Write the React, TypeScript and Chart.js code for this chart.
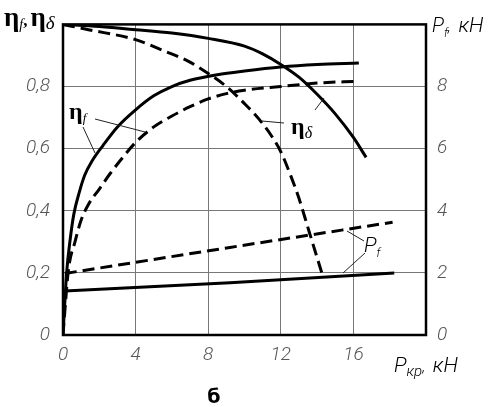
import React, { useEffect, useRef } from 'react';
import { Chart, registerables } from 'chart.js';

Chart.register(...registerables);

// Traction load P_кр, кН (x) vs efficiencies (left axis) and P_f, кН (right axis)
const etaFSolid: [number, number][] = [
  [0, 0], [0.2, 0.2], [0.4, 0.31], [0.6, 0.39], [0.9, 0.46], [1.2, 0.515],
  [1.6, 0.56], [2.2, 0.61], [3.0, 0.67], [4.0, 0.725], [5.0, 0.77], [6.0, 0.8],
  [7.0, 0.82], [8.5, 0.838], [10, 0.85], [12, 0.863], [14, 0.871], [16.3, 0.876],
];
const etaFDashed: [number, number][] = [
  [0, 0], [0.3, 0.21], [0.66, 0.3], [1.0, 0.37], [1.4, 0.42], [2.0, 0.47],
  [2.6, 0.52], [3.2, 0.565], [4.0, 0.62], [5.0, 0.67], [6.0, 0.705], [7.0, 0.735],
  [8.0, 0.76], [9.0, 0.777], [10, 0.788], [12, 0.8], [14, 0.811], [16.2, 0.817],
];
const etaDeltaSolid: [number, number][] = [
  [0, 1.0], [2, 0.993], [4, 0.983], [6, 0.972], [8, 0.955], [10, 0.93], [11, 0.905],
  [12, 0.871], [13, 0.83], [14, 0.775], [15, 0.712], [16, 0.636], [16.7, 0.572],
];
const etaDeltaDashed: [number, number][] = [
  [0, 1.0], [1.4, 0.983], [4, 0.951], [5.64, 0.913], [6.92, 0.881], [8, 0.842],
  [9, 0.8], [10, 0.745], [10.8, 0.695], [11.5, 0.64], [12, 0.59], [12.5, 0.52],
  [13, 0.44], [13.55, 0.335], [14.3, 0.192],
];
const pfSolid: [number, number][] = [[0.1, 1.42], [9.2, 1.68], [18.25, 2.0]];
const pfDashed: [number, number][] = [[0.1, 1.98], [9.2, 2.82], [18.16, 3.63]];

const xTickLabels = ['0', '4', '8', '12', '16', ''];
const leftTickLabels = ['0', '0,2', '0,4', '0,6', '0,8', ''];
const rightTickLabels = ['0', '2', '4', '6', '8', ''];

const NARROW = "Roboto, 'Liberation Sans', sans-serif";
const SERIF = "'Liberation Serif', 'DejaVu Serif', serif";

type Part = { t: string; font: string; dy?: number; gap?: number };

function drawParts(ctx: CanvasRenderingContext2D, x: number, y: number, parts: Part[]) {
  let cx = x;
  for (const p of parts) {
    ctx.font = p.font;
    ctx.fillText(p.t, cx, y + (p.dy || 0));
    cx += ctx.measureText(p.t).width + (p.gap || 0);
  }
}

function line(ctx: CanvasRenderingContext2D, x1: number, y1: number, x2: number, y2: number) {
  ctx.beginPath();
  ctx.moveTo(x1, y1);
  ctx.lineTo(x2, y2);
  ctx.stroke();
}

const decorPlugin = {
  id: 'decor',
  afterDraw(chart: any) {
    const ctx: CanvasRenderingContext2D = chart.ctx;
    const a = chart.chartArea;
    ctx.save();
    // frame
    ctx.strokeStyle = '#000';
    ctx.lineWidth = 2.5;
    ctx.strokeRect(a.left, a.top, a.right - a.left, a.bottom - a.top);

    ctx.fillStyle = '#000';
    ctx.textBaseline = 'alphabetic';
    ctx.textAlign = 'left';
    // left axis title
    drawParts(ctx, 4, 26, [
      { t: 'η', font: `bold 27px ${SERIF}` },
      { t: 'f', font: `italic 14px ${SERIF}`, dy: 3 },
      { t: ',', font: `bold 17px ${SERIF}`, gap: 3 },
      { t: 'η', font: `bold 27px ${SERIF}` },
      { t: 'δ', font: `italic 19px ${SERIF}`, dy: 3 },
    ]);
    // right axis title
    drawParts(ctx, 432, 32, [
      { t: 'P', font: `italic 300 20px ${NARROW}` },
      { t: 'f', font: `italic 300 12px ${NARROW}`, dy: 5 },
      { t: ',  ', font: `italic 300 16px ${NARROW}` },
      { t: 'кН', font: `italic 300 21px ${NARROW}` },
    ]);
    // x axis title
    drawParts(ctx, 394, 372, [
      { t: 'P', font: `italic 300 21px ${NARROW}` },
      { t: 'кр', font: `italic 300 15px ${NARROW}`, dy: 4 },
      { t: ',  ', font: `italic 300 16px ${NARROW}` },
      { t: 'кН', font: `italic 300 21px ${NARROW}` },
    ]);
    // caption
    ctx.textAlign = 'center';
    ctx.font = `bold 19px 'DejaVu Sans', sans-serif`;
    ctx.fillText('б', 214, 403);
    ctx.textAlign = 'left';

    // curve labels
    drawParts(ctx, 69, 119, [
      { t: 'η', font: `bold 24px ${SERIF}` },
      { t: 'f', font: `italic 13px ${SERIF}`, dy: 3 },
    ]);
    drawParts(ctx, 291, 134, [
      { t: 'η', font: `bold 24px ${SERIF}` },
      { t: 'δ', font: `italic 16px ${SERIF}`, dy: 4 },
    ]);
    drawParts(ctx, 364, 252, [
      { t: 'P', font: `italic 300 21px ${NARROW}` },
      { t: 'f', font: `italic 300 12px ${NARROW}`, dy: 5 },
    ]);

    // leader lines
    ctx.strokeStyle = '#222';
    ctx.lineWidth = 1;
    line(ctx, 95, 119, 145, 132);
    line(ctx, 83, 127, 95, 153);
    line(ctx, 284, 123, 262, 121);
    line(ctx, 315, 110, 324, 98);
    line(ctx, 364, 241, 347, 231);
    line(ctx, 365, 253, 343, 273);
    ctx.restore();
  },
};

function toXY(arr: [number, number][]) {
  return arr.map(([x, y]) => ({ x, y }));
}

export default function App() {
  const ref = useRef<HTMLCanvasElement>(null);
  useEffect(() => {
    if (!ref.current) return;
    const common = {
      borderColor: '#000',
      borderWidth: 3,
      pointRadius: 0,
      fill: false,
      cubicInterpolationMode: 'monotone' as const,
    };
    const tickFont = { family: NARROW, size: 19, style: 'italic' as const, weight: 300 as any };
    const chart = new Chart(ref.current, {
      type: 'line',
      data: {
        datasets: [
          { ...common, data: toXY(etaFSolid), yAxisID: 'y' },
          { ...common, data: toXY(etaFDashed), yAxisID: 'y', borderDash: [12, 6] },
          { ...common, data: toXY(etaDeltaSolid), yAxisID: 'y' },
          { ...common, data: toXY(etaDeltaDashed), yAxisID: 'y', borderDash: [12, 6] },
          { ...common, data: toXY(pfSolid), yAxisID: 'y2' },
          { ...common, data: toXY(pfDashed), yAxisID: 'y2', borderDash: [12, 6] },
        ],
      },
      options: {
        animation: false,
        responsive: false,
        layout: { padding: { top: 23, left: 0, right: 0, bottom: 0 } },
        plugins: { legend: { display: false }, tooltip: { enabled: false }, title: { display: false } },
        scales: {
          x: {
            type: 'linear',
            min: 0,
            max: 20,
            afterFit: (s: any) => { s.height = 72; },
            ticks: {
              stepSize: 4,
              padding: 9,
              color: '#555',
              font: tickFont,
              maxRotation: 0,
              callback: (v: any) => xTickLabels[Math.round(Number(v) / 4)] ?? '',
            },
            grid: { color: '#777', lineWidth: 1, drawTicks: false },
            border: { display: false },
          },
          y: {
            position: 'left',
            min: 0,
            max: 1,
            afterFit: (s: any) => { s.width = 63; },
            ticks: {
              stepSize: 0.2,
              padding: 13,
              color: '#555',
              font: tickFont,
              callback: (v: any) => leftTickLabels[Math.round(Number(v) / 0.2)] ?? '',
            },
            grid: { color: '#777', lineWidth: 1, drawTicks: false },
            border: { display: false },
          },
          y2: {
            position: 'right',
            min: 0,
            max: 10,
            afterFit: (s: any) => { s.width = 67; },
            ticks: {
              stepSize: 2,
              padding: 11,
              color: '#555',
              font: tickFont,
              callback: (v: any) => rightTickLabels[Math.round(Number(v) / 2)] ?? '',
            },
            grid: { display: false, drawTicks: false },
            border: { display: false },
          },
        },
      },
      plugins: [decorPlugin],
    } as any);
    return () => chart.destroy();
  }, []);
  return (
    <div style={{ position: 'absolute', left: 0, top: 0, width: 493, height: 407, background: '#fff' }}>
      <canvas ref={ref} width={493} height={407} />
    </div>
  );
}
